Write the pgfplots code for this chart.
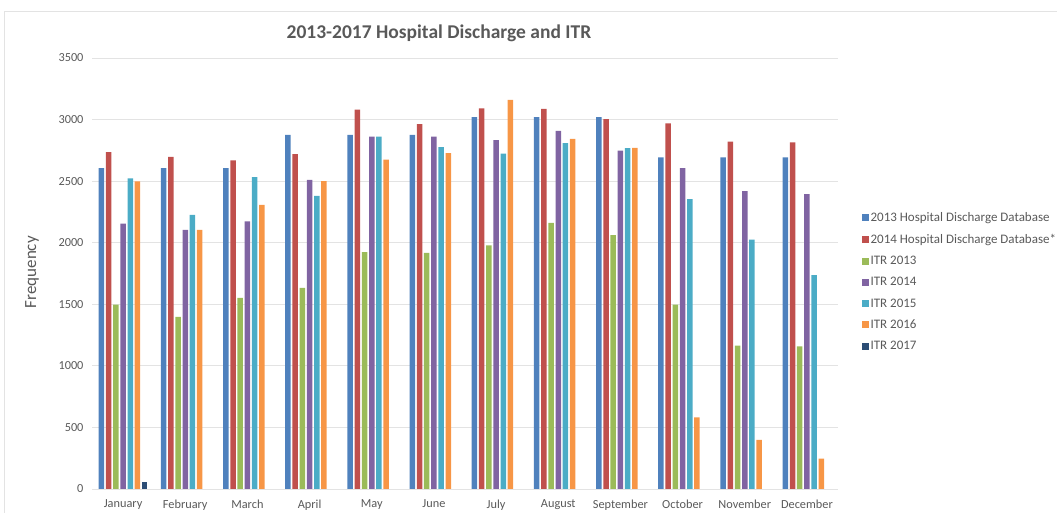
\documentclass[border=0pt]{standalone}
\usepackage{fontspec}
\setmainfont{Carlito}
\usepackage{pgfplots}
\pgfplotsset{compat=1.18}
\definecolor{cA}{HTML}{4F81BD}
\definecolor{cB}{HTML}{C0504D}
\definecolor{cC}{HTML}{9BBB59}
\definecolor{cD}{HTML}{8064A2}
\definecolor{cE}{HTML}{4BACC6}
\definecolor{cF}{HTML}{F79646}
\definecolor{cG}{HTML}{2C4D75}
\definecolor{txt}{HTML}{595959}
\definecolor{grd}{HTML}{E3E3E3}
\begin{document}
\begin{tikzpicture}
\useasboundingbox (0pt,0pt) rectangle (1057pt,513pt);
\draw[draw=grd, line width=0.8pt] (4pt,-5pt) rectangle (1065pt,502pt);
\begin{axis}[
  at={(92pt,24pt)}, anchor=south west,
  scale only axis, width=746pt, height=431pt,
  xmin=-0.5, xmax=11.5, ymin=0, ymax=3500,
  ybar=1.7pt, bar width=5.5pt,
  xtick={0,...,11},
  xticklabels={January,February,March,April,May,June,July,August,September,October,November,December},
  ytick={0,500,...,3500},
  ymajorgrids, grid style={draw=grd, line width=0.8pt},
  axis line style={draw=none},
  major tick length=0pt,
  /pgf/number format/assume math mode=true,
  /pgf/number format/1000 sep={},
  scaled y ticks=false,
  tick label style={font=\fontsize{12.3}{14}\selectfont, text=txt},
  xticklabel style={yshift=-7pt},
  yticklabel style={xshift=-5pt},
  ylabel={Frequency},
  ylabel style={at={(axis description cs:-0.0804,0.503)}, anchor=center, font=\fontsize{17}{19}\selectfont, text=txt},
  every axis title shift=0pt,
  title={2013-2017 Hospital Discharge and ITR},
  title style={at={(axis description cs:0.465,1.058)}, anchor=center, font=\bfseries\fontsize{19.5}{22}\selectfont, text=txt},
  legend style={at={(1.032,0.646)}, anchor=north west, draw=none, fill=none,
    font=\fontsize{13}{15}\selectfont, text=txt, row sep=8.3pt, inner sep=0pt,
    nodes={inner sep=1.5pt}},
  legend cell align=left,
  legend image code/.code={\fill[#1] (0pt,-3.5pt) rectangle (7pt,3.5pt);},
]
\addplot[fill=cA, draw=none] coordinates {(0,2605) (1,2605) (2,2605) (3,2875) (4,2875) (5,2875) (6,3020) (7,3020) (8,3020) (9,2693) (10,2693) (11,2693)};
\addplot[fill=cB, draw=none] coordinates {(0,2736) (1,2698) (2,2668) (3,2720) (4,3080) (5,2964) (6,3091) (7,3086) (8,3004) (9,2969) (10,2820) (11,2815)};
\addplot[fill=cC, draw=none] coordinates {(0,1498) (1,1398) (2,1552) (3,1634) (4,1923) (5,1918) (6,1978) (7,2162) (8,2062) (9,1498) (10,1165) (11,1159)};
\addplot[fill=cD, draw=none] coordinates {(0,2154) (1,2105) (2,2173) (3,2511) (4,2861) (5,2861) (6,2834) (7,2909) (8,2747) (9,2606) (10,2419) (11,2395)};
\addplot[fill=cE, draw=none] coordinates {(0,2522) (1,2227) (2,2533) (3,2381) (4,2861) (5,2777) (6,2723) (7,2809) (8,2769) (9,2354) (10,2026) (11,1736)};
\addplot[fill=cF, draw=none] coordinates {(0,2498) (1,2105) (2,2308) (3,2500) (4,2674) (5,2728) (6,3159) (7,2844) (8,2771) (9,582) (10,398) (11,247)};
\addplot[fill=cG, draw=none] coordinates {(0,54)};
\legend{2013 Hospital Discharge Database, 2014 Hospital Discharge Database*, ITR 2013, ITR 2014, ITR 2015, ITR 2016, ITR 2017}
\end{axis}
\end{tikzpicture}
\end{document}
